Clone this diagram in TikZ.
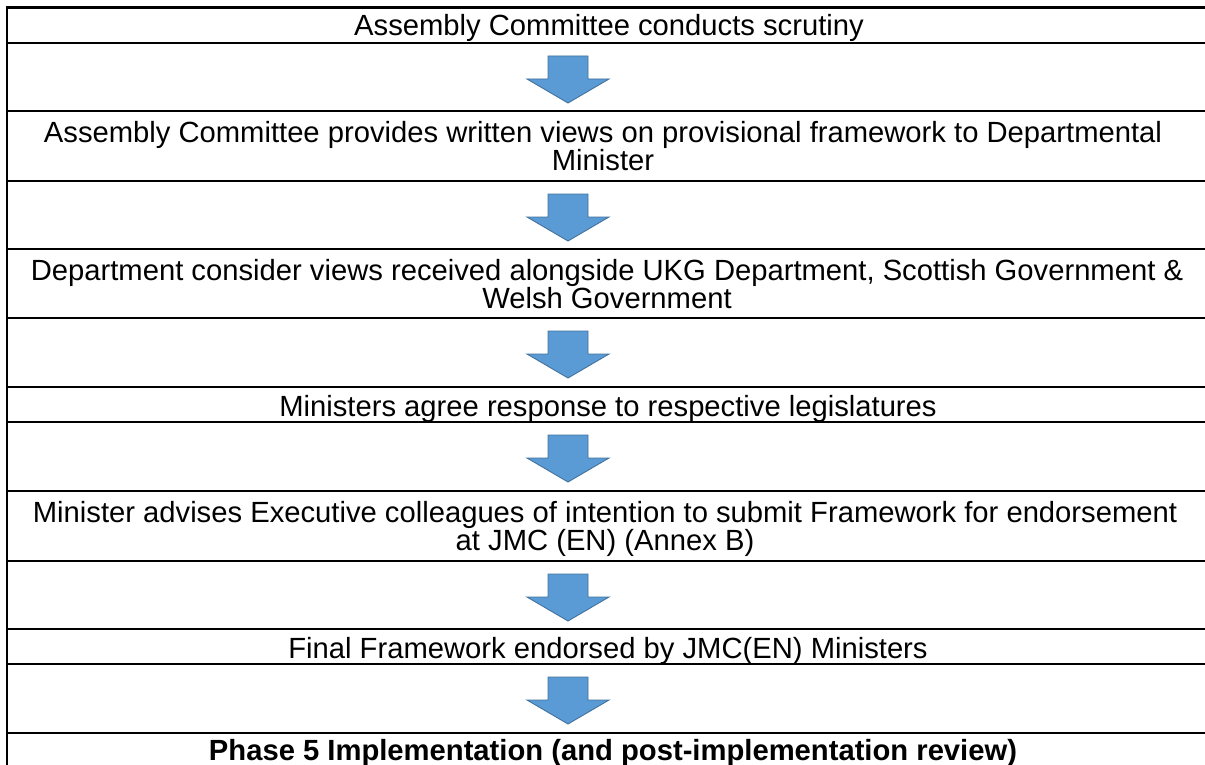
\documentclass[tikz,border=0pt]{standalone}
\usepackage{fontspec}
\setmainfont{Liberation Sans}
\definecolor{arrowfill}{HTML}{5B9BD5}
\definecolor{arrowline}{HTML}{41719C}
\begin{document}
\begin{tikzpicture}[x=1pt,y=-1pt,
  txt/.style={anchor=base,inner sep=0pt,font=\fontsize{29.2}{27}\selectfont},
  txttwo/.style={anchor=north,inner sep=0pt,align=center,font=\fontsize{29.2}{27}\selectfont},
  btxt/.style={txt,font=\fontsize{29.2}{27}\selectfont\bfseries},
  rule/.style={line width=2.2pt,black},
  blockarrow/.style={fill=arrowfill,draw=arrowline,line width=0.9pt,line join=miter}]
\useasboundingbox (0,0) rectangle (1205,765);
% grid lines
\draw[rule] (7.3,765) -- (7.3,7.5) -- (1205,7.5);
\foreach \y in {43,111,181,249,318,387,422,491,561,629,664,733}
  \draw[rule] (6.2,\y) -- (1205,\y);
% texts
\node[txt] (r1) at (609,36) {Assembly Committee conducts scrutiny};
\node[txttwo] (r2) at (603,121) {Assembly Committee provides written views on provisional framework to Departmental\\Minister};
\node[txttwo] (r3) at (607,259) {Department consider views received alongside UKG Department, Scottish Government \&\\Welsh Government};
\node[txt] (r4) at (608,416) {Ministers agree response to respective legislatures};
\node[txttwo] (r5) at (605,501) {Minister advises Executive colleagues of intention to submit Framework for endorsement\\at JMC (EN) (Annex B)};
\node[txt] (r6) at (608,658) {Final Framework endorsed by JMC(EN) Ministers};
\node[btxt] (r7) at (613,760) {Phase 5 Implementation (and post-implementation review)};
% arrows
\foreach \t in {43,181,318,422,561,664}
  \draw[blockarrow] (548,\t+13) -- (588,\t+13) -- (588,\t+36) -- (609,\t+36)
    -- (568,\t+60) -- (527,\t+36) -- (548,\t+36) -- cycle;
\end{tikzpicture}
\end{document}
